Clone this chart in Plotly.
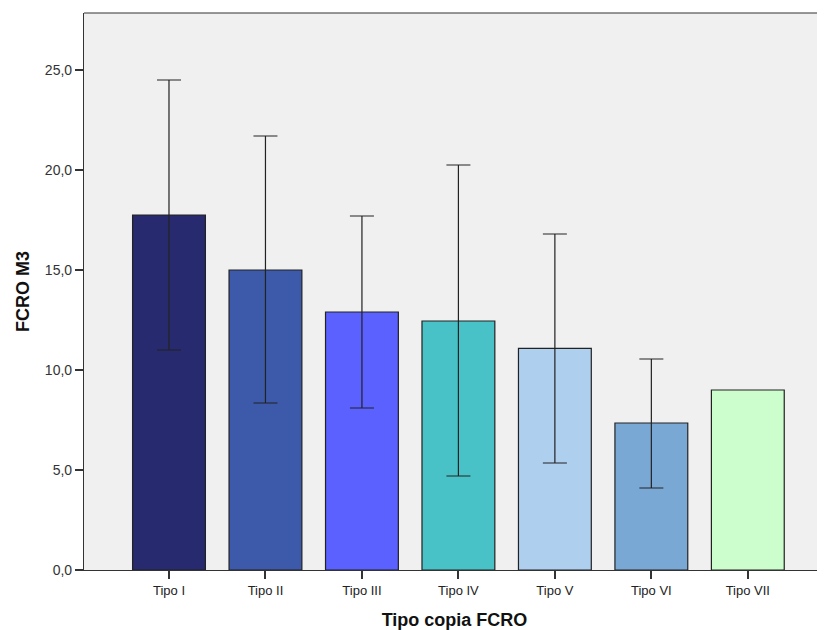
import plotly.graph_objects as go

categories = ["Tipo I", "Tipo II", "Tipo III", "Tipo IV", "Tipo V", "Tipo VI", "Tipo VII"]
means = [17.75, 15.0, 12.9, 12.45, 11.08, 7.35, 9.0]
upper = [24.5, 21.7, 17.7, 20.25, 16.8, 10.55, None]
lower = [11.0, 8.35, 8.1, 4.7, 5.35, 4.1, None]
colors = ["#272a6f", "#3d59a9", "#5a61fe", "#49c2c7", "#aecfee", "#7aa8d5", "#ccfdcc"]

fig = go.Figure()
idx_err = [i for i in range(len(categories)) if upper[i] is not None]
idx_noerr = [i for i in range(len(categories)) if upper[i] is None]

fig.add_trace(go.Bar(
    x=[categories[i] for i in idx_err],
    y=[means[i] for i in idx_err],
    width=0.755,
    marker=dict(color=[colors[i] for i in idx_err], line=dict(color="#222222", width=1.2)),
    error_y=dict(type="data", symmetric=False,
                 array=[upper[i] - means[i] for i in idx_err],
                 arrayminus=[means[i] - lower[i] for i in idx_err],
                 color="#222222", thickness=1.2, width=12),
    showlegend=False,
))
fig.add_trace(go.Bar(
    x=[categories[i] for i in idx_noerr],
    y=[means[i] for i in idx_noerr],
    width=0.755,
    marker=dict(color=[colors[i] for i in idx_noerr], line=dict(color="#222222", width=1.2)),
    showlegend=False,
))

fig.update_layout(
    width=817, height=622,
    margin=dict(l=76, r=0, t=5, b=60, autoexpand=False),
    barmode="overlay",
    paper_bgcolor="white",
    plot_bgcolor="#f0f0f0",
    separators=",.",
    font=dict(family="Arial, Liberation Sans, sans-serif", color="#222222"),
    xaxis=dict(
        categoryorder="array", categoryarray=categories,
        range=[-0.881, 6.8],
        showline=True, linecolor="#333333", linewidth=1.2,
        ticks="outside", ticklen=8, tickcolor="#333333", tickwidth=1.5,
        tickfont=dict(size=13, color="#222222"),
        title=dict(text="<b>Tipo copia FCRO</b>", font=dict(size=18, color="#111111"), standoff=16),
        showgrid=False, zeroline=False, automargin=False,
    ),
    yaxis=dict(
        range=[0, 27.85],
        tickvals=[0, 5, 10, 15, 20, 25],
        tickformat=".1f",
        showline=True, linecolor="#333333", linewidth=1.2,
        ticks="outside", ticklen=8, tickcolor="#333333", tickwidth=1.5,
        tickfont=dict(size=14, color="#333333"),
        title=dict(text="<b>FCRO M3</b>", font=dict(size=18, color="#111111"), standoff=10),
        showgrid=False, zeroline=False, automargin=False,
    ),
    shapes=[dict(type="line", xref="paper", yref="paper", x0=0, x1=1, y0=1, y1=1,
                 line=dict(color="#333333", width=1.2))],
)

fig.write_html("out.html")
